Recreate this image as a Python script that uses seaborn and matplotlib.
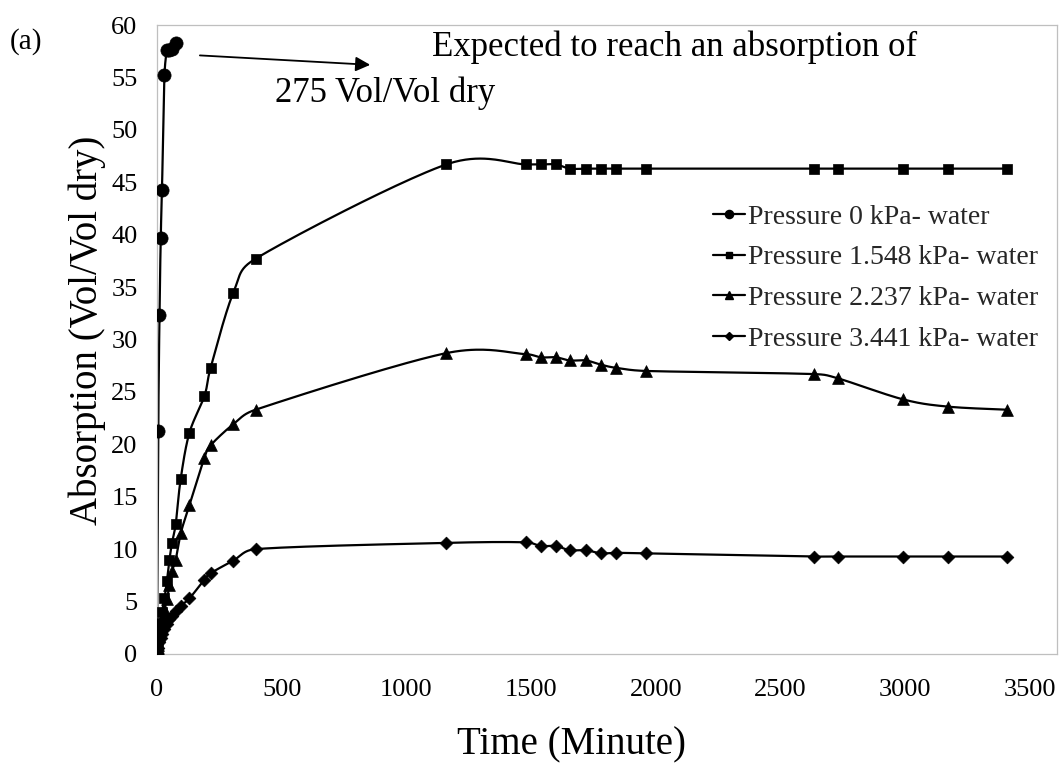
import numpy as np
import pandas as pd
import matplotlib
matplotlib.use("Agg")
import matplotlib.pyplot as plt
from matplotlib.lines import Line2D
import seaborn as sns

# ---------------- data ----------------
t_p0 = [0, 5, 10, 15, 20, 30, 40, 50, 60, 75]
v_p0 = [0, 21.3, 32.3, 39.7, 44.3, 55.2, 57.6, 57.6, 57.7, 58.3]

t_common = [0, 5, 10, 15, 20, 30, 40, 50, 60, 75, 95, 130, 190, 215, 305, 395,
            1160, 1480, 1540, 1600, 1655, 1720, 1780, 1840, 1960,
            2635, 2730, 2990, 3170, 3410]

v_p1 = [0, 1.0, 2.0, 3.0, 4.0, 5.3, 7.0, 9.0, 10.6, 12.4, 16.7, 21.1, 24.6, 27.3, 34.4, 37.7,
        46.7, 46.7, 46.7, 46.7, 46.3, 46.3, 46.3, 46.3, 46.3,
        46.3, 46.3, 46.3, 46.3, 46.3]

v_p2 = [0, 0.9, 1.8, 2.6, 3.4, 4.3, 5.2, 6.6, 7.9, 9.0, 11.5, 14.2, 18.7, 19.9, 21.9, 23.3,
        28.7, 28.6, 28.3, 28.3, 28.0, 28.0, 27.6, 27.3, 27.0,
        26.7, 26.3, 24.3, 23.6, 23.3]

v_p3 = [0, 0.6, 1.1, 1.5, 1.9, 2.4, 2.9, 3.3, 3.6, 4.1, 4.6, 5.3, 7.1, 7.7, 8.9, 10.0,
        10.6, 10.65, 10.3, 10.3, 9.9, 9.9, 9.6, 9.65, 9.6,
        9.3, 9.3, 9.3, 9.3, 9.3]

labels = ["Pressure 0 kPa- water", "Pressure 1.548 kPa- water",
          "Pressure 2.237 kPa- water", "Pressure 3.441 kPa- water"]
markers = ["o", "s", "^", "D"]
msizes = [9.5, 7.5, 8.5, 6.5]

x_ticks = [0, 500, 1000, 1500, 2000, 2500, 3000, 3500]
y_ticks = [0, 5, 10, 15, 20, 25, 30, 35, 40, 45, 50, 55, 60]

series_t = [t_p0, t_common, t_common, t_common]
series_v = [v_p0, v_p1, v_p2, v_p3]

df = pd.concat([pd.DataFrame({"time": t, "absorption": v, "series": lab})
                for t, v, lab in zip(series_t, series_v, labels)], ignore_index=True)

# ---------------- style ----------------
sns.set_theme(style="white")
plt.rcParams["font.family"] = ["Liberation Serif", "DejaVu Serif"]

fig = plt.figure(figsize=(10.63, 7.66), dpi=100)
ax = fig.add_axes([157 / 1063, 1 - 654 / 766, 900 / 1063, 629 / 766])

XMAX, YMAX = 3609, 60
W_PX, H_PX = 900, 629


def excel_smooth(x, y, n=40, tension=1 / 6):
    """Excel-like smoothed line (clamped Catmull-Rom Bezier in screen space)."""
    P = np.column_stack([np.asarray(x, float) / XMAX * W_PX,
                         np.asarray(y, float) / YMAX * H_PX])
    out = []
    for i in range(len(P) - 1):
        p0 = P[i - 1] if i > 0 else P[i]
        p1, p2 = P[i], P[i + 1]
        p3 = P[i + 2] if i + 2 < len(P) else P[i + 1]
        d12 = np.linalg.norm(p2 - p1)
        d02 = np.linalg.norm(p2 - p0)
        d13 = np.linalg.norm(p3 - p1)
        f1 = tension if d02 * tension < d12 / 2 or d02 == 0 else d12 / d02 / 2
        f2 = tension if d13 * tension < d12 / 2 or d13 == 0 else d12 / d13 / 2
        c1 = p1 + (p2 - p0) * f1
        c2 = p2 - (p3 - p1) * f2
        s = np.linspace(0, 1, n)[:, None]
        seg = ((1 - s) ** 3) * p1 + 3 * ((1 - s) ** 2) * s * c1 + 3 * (1 - s) * s ** 2 * c2 + s ** 3 * p2
        out.append(seg if i == 0 else seg[1:])
    out = np.vstack(out)
    return out[:, 0] / W_PX * XMAX, out[:, 1] / H_PX * YMAX


for t, v in zip(series_t, series_v):
    xs, ys = excel_smooth(t, v)
    ax.plot(xs, ys, color="black", lw=1.6, zorder=2, solid_capstyle="round")

for lab, m, ms in zip(labels, markers, msizes):
    sub = df[df["series"] == lab]
    sns.scatterplot(data=sub, x="time", y="absorption", marker=m, s=ms ** 2,
                    color="black", edgecolor="black", linewidth=0.5, ax=ax,
                    legend=False, zorder=3)

ax.set_xlim(0, XMAX)
ax.set_ylim(0, YMAX)
ax.set_xticks(x_ticks)
ax.set_yticks(y_ticks)
ax.set_xticklabels([str(v) for v in x_ticks])
ax.set_yticklabels([str(v) for v in y_ticks])
ax.tick_params(axis="both", length=0, labelsize=19, colors="black")
ax.tick_params(axis="x", pad=18)
ax.tick_params(axis="y", pad=14)
for sp in ax.spines.values():
    sp.set_color("#bfbfbf")
    sp.set_linewidth(0.9)
ax.grid(False)

ax.set_xlabel("Time (Minute)", fontsize=28, color="black", va="center")
ax.xaxis.set_label_coords(0.461, -0.145)
ax.set_ylabel("Absorption (Vol/Vol dry)", fontsize=28, color="black", va="center")
ax.yaxis.set_label_coords(-0.078, 0.515)

# legend
handles = [Line2D([0], [0], color="black", lw=1.6, marker=m, markersize=ms * 0.62,
                  markerfacecolor="black", markeredgecolor="black")
           for m, ms in zip(markers, msizes)]
fig.legend(handles, labels, loc="center left",
           bbox_to_anchor=(713 / 1063, 1 - 278 / 766), bbox_transform=fig.transFigure,
           frameon=False, fontsize=20, handlelength=1.15, handletextpad=0.1,
           labelspacing=0.55, borderpad=0, borderaxespad=0)

# annotation
ax.annotate("", xy=(855, 56.2), xytext=(172, 57.1),
            arrowprops=dict(arrowstyle="-|>", color="black", lw=1.3,
                            mutation_scale=22, shrinkA=0, shrinkB=0))
fig.text(432 / 1063, 1 - 47 / 766, "Expected to reach an absorption of",
         fontsize=25, ha="left", va="center", color="black")
fig.text(275 / 1063, 1 - 93 / 766, "275 Vol/Vol dry",
         fontsize=25, ha="left", va="center", color="black")
fig.text(10 / 1063, 1 - 42 / 766, "(a)", fontsize=21, ha="left", va="center", color="black")

fig.savefig("out.png", dpi=100, facecolor="white")
